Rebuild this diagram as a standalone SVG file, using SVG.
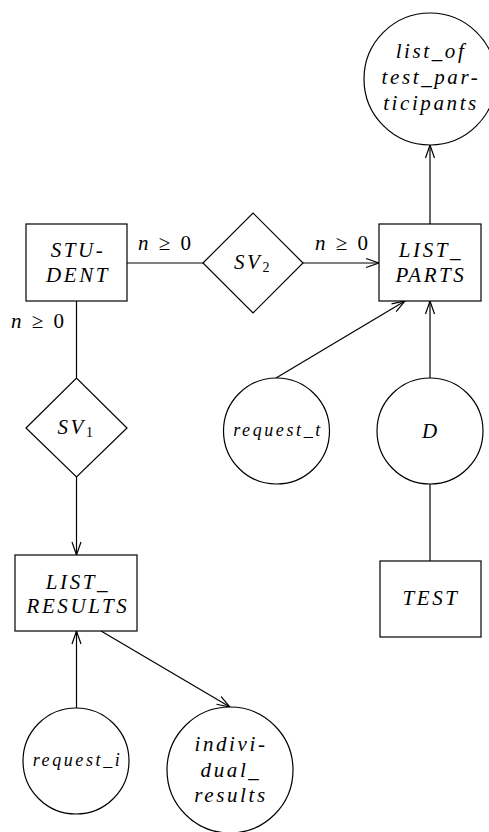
<svg xmlns="http://www.w3.org/2000/svg" width="489" height="832" viewBox="0 0 489 832">
  <style>
    .shape { fill: #fff; stroke: #000; stroke-width: 1.2; }
    .edge { fill: none; stroke: #000; stroke-width: 1.2; }
    .lbl { font-family: "Liberation Serif", "Times New Roman", serif; font-style: italic; font-size: 21px; letter-spacing: 2.6px; text-anchor: middle; fill: #000; }
    .small { font-size: 18px; letter-spacing: 2.6px; }
    .card { font-family: "Liberation Serif", "Times New Roman", serif; font-size: 21px; word-spacing: 5px; fill: #000; }
    .up { font-style: normal; }
    .it { font-style: italic; }
  </style>
  <defs>
    <marker id="arrow" markerUnits="userSpaceOnUse" markerWidth="16" markerHeight="12" viewBox="-14 -6 16 12" refX="0" refY="0" orient="auto">
      <path d="M-13,-4.5 L0,0 L-13,4.5" fill="none" stroke="#000" stroke-width="1.2"/>
    </marker>
  </defs>

  <!-- connectors -->
  <g id="connectors">
    <line class="edge" x1="127" y1="263" x2="203" y2="263"/>
    <line class="edge" x1="303" y1="263" x2="379" y2="263" marker-end="url(#arrow)"/>
    <line class="edge" x1="430" y1="224" x2="430" y2="145" marker-end="url(#arrow)"/>
    <line class="edge" x1="276" y1="378" x2="405" y2="301" marker-end="url(#arrow)"/>
    <line class="edge" x1="430" y1="378" x2="430" y2="301" marker-end="url(#arrow)"/>
    <line class="edge" x1="430" y1="484" x2="430" y2="561"/>
    <line class="edge" x1="76.5" y1="301" x2="76.5" y2="378"/>
    <line class="edge" x1="76.5" y1="477" x2="76.5" y2="555" marker-end="url(#arrow)"/>
    <line class="edge" x1="76.5" y1="708" x2="76.5" y2="631" marker-end="url(#arrow)"/>
    <line class="edge" x1="101" y1="631" x2="230" y2="707" marker-end="url(#arrow)"/>
    <!-- cardinalities -->
    <text class="card" x="138" y="250"><tspan class="it">n</tspan> ≥ 0</text>
    <text class="card" x="315" y="250"><tspan class="it">n</tspan> ≥ 0</text>
    <text class="card" x="11" y="328"><tspan class="it">n</tspan> ≥ 0</text>
  </g>

  <g id="student">
    <rect class="shape" x="26" y="224" width="101" height="77"/>
    <text class="lbl" x="78" y="257">STU-</text>
    <text class="lbl" x="78" y="282">DENT</text>
  </g>

  <g id="sv2">
    <polygon class="shape" points="203,263 253,213 303,263 253,313"/>
    <text class="lbl" x="253" y="269" letter-spacing="2">SV<tspan class="up" font-size="14" dy="3">2</tspan></text>
  </g>

  <g id="list-parts">
    <rect class="shape" x="379" y="224" width="102" height="77"/>
    <text class="lbl" x="431" y="257">LIST_</text>
    <text class="lbl" x="431" y="282">PARTS</text>
  </g>

  <g id="list-of-test-participants">
    <circle class="shape" cx="430" cy="79" r="66"/>
    <text class="lbl" x="431" y="58">list_of</text>
    <text class="lbl" x="431" y="84">test_par-</text>
    <text class="lbl" x="431" y="110">ticipants</text>
  </g>

  <g id="request-t">
    <circle class="shape" cx="276.5" cy="431" r="53"/>
    <text class="lbl small" x="278" y="436">request_t</text>
  </g>

  <g id="d">
    <circle class="shape" cx="430" cy="431" r="53"/>
    <text class="lbl" x="431" y="438">D</text>
  </g>

  <g id="test">
    <rect class="shape" x="380" y="561" width="101" height="76"/>
    <text class="lbl" x="431" y="605">TEST</text>
  </g>

  <g id="sv1">
    <polygon class="shape" points="26,428 76.5,378 127,428 76.5,477"/>
    <text class="lbl" x="76.5" y="434" letter-spacing="2">SV<tspan class="up" font-size="14" dy="3">1</tspan></text>
  </g>

  <g id="list-results">
    <rect class="shape" x="15" y="555" width="122" height="76"/>
    <text class="lbl" x="78" y="589">LIST_</text>
    <text class="lbl" x="78" y="613">RESULTS</text>
  </g>

  <g id="request-i">
    <circle class="shape" cx="76" cy="761" r="53"/>
    <text class="lbl small" x="77.5" y="766">request_i</text>
  </g>

  <g id="individual-results">
    <circle class="shape" cx="230" cy="770" r="63"/>
    <text class="lbl" x="231" y="751">indivi-</text>
    <text class="lbl" x="231" y="777">dual_</text>
    <text class="lbl" x="231" y="802">results</text>
  </g>
</svg>
